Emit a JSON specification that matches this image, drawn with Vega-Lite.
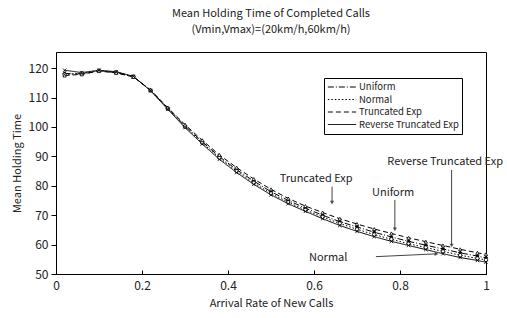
{
  "$schema": "https://vega.github.io/schema/vega-lite/v6.json",
  "width": 430,
  "height": 222,
  "autosize": {"type": "none"},
  "padding": {"left": 56, "top": 52, "right": 21, "bottom": 44},
  "background": "white",
  "config": {
    "font": "Noto Sans CJK JP",
    "view": {"stroke": "#000", "strokeWidth": 1},
    "axis": {"labelFont": "Noto Sans CJK JP", "titleFont": "Noto Sans CJK JP", "labelColor": "#222", "titleColor": "#222", "titleFontWeight": "normal", "domainColor": "#000", "tickColor": "#000", "grid": false, "labelOverlap": false},
    "legend": {"rowPadding": 0.5, "symbolSize": 800, "clipHeight": 12}
  },
  "title": {
    "text": ["Mean Holding Time of Completed Calls", "(Vmin,Vmax)=(20km/h,60km/h)"],
    "fontSize": 11,
    "fontWeight": "normal",
    "color": "#222",
    "lineHeight": 16,
    "anchor": "middle",
    "frame": "group",
    "offset": 17
  },
  "datasets": {
    "curves": [
      {"x": 0.02, "s": "Uniform", "y": 118.2}, {"x": 0.02, "s": "Normal", "y": 117.8}, {"x": 0.02, "s": "Truncated Exp", "y": 117.5}, {"x": 0.02, "s": "Reverse Truncated Exp", "y": 119.3},
      {"x": 0.06, "s": "Uniform", "y": 118.0}, {"x": 0.06, "s": "Normal", "y": 118.3}, {"x": 0.06, "s": "Truncated Exp", "y": 117.9}, {"x": 0.06, "s": "Reverse Truncated Exp", "y": 118.5},
      {"x": 0.10, "s": "Uniform", "y": 119.1}, {"x": 0.10, "s": "Normal", "y": 119.2}, {"x": 0.10, "s": "Truncated Exp", "y": 119.0}, {"x": 0.10, "s": "Reverse Truncated Exp", "y": 119.3},
      {"x": 0.14, "s": "Uniform", "y": 118.5}, {"x": 0.14, "s": "Normal", "y": 118.6}, {"x": 0.14, "s": "Truncated Exp", "y": 118.4}, {"x": 0.14, "s": "Reverse Truncated Exp", "y": 118.8},
      {"x": 0.18, "s": "Uniform", "y": 117.1}, {"x": 0.18, "s": "Normal", "y": 117.2}, {"x": 0.18, "s": "Truncated Exp", "y": 117.0}, {"x": 0.18, "s": "Reverse Truncated Exp", "y": 117.2},
      {"x": 0.22, "s": "Uniform", "y": 112.5}, {"x": 0.22, "s": "Normal", "y": 112.4}, {"x": 0.22, "s": "Truncated Exp", "y": 112.6}, {"x": 0.22, "s": "Reverse Truncated Exp", "y": 112.3},
      {"x": 0.26, "s": "Uniform", "y": 106.4}, {"x": 0.26, "s": "Normal", "y": 106.2}, {"x": 0.26, "s": "Truncated Exp", "y": 106.6}, {"x": 0.26, "s": "Reverse Truncated Exp", "y": 106.0},
      {"x": 0.30, "s": "Uniform", "y": 100.4}, {"x": 0.30, "s": "Normal", "y": 100.1}, {"x": 0.30, "s": "Truncated Exp", "y": 100.8}, {"x": 0.30, "s": "Reverse Truncated Exp", "y": 99.8},
      {"x": 0.34, "s": "Uniform", "y": 95.0}, {"x": 0.34, "s": "Normal", "y": 94.6}, {"x": 0.34, "s": "Truncated Exp", "y": 95.5}, {"x": 0.34, "s": "Reverse Truncated Exp", "y": 94.2},
      {"x": 0.38, "s": "Uniform", "y": 89.9}, {"x": 0.38, "s": "Normal", "y": 89.5}, {"x": 0.38, "s": "Truncated Exp", "y": 90.5}, {"x": 0.38, "s": "Reverse Truncated Exp", "y": 89.0},
      {"x": 0.42, "s": "Uniform", "y": 85.5}, {"x": 0.42, "s": "Normal", "y": 85.0}, {"x": 0.42, "s": "Truncated Exp", "y": 86.2}, {"x": 0.42, "s": "Reverse Truncated Exp", "y": 84.5},
      {"x": 0.46, "s": "Uniform", "y": 81.6}, {"x": 0.46, "s": "Normal", "y": 81.0}, {"x": 0.46, "s": "Truncated Exp", "y": 82.3}, {"x": 0.46, "s": "Reverse Truncated Exp", "y": 80.5},
      {"x": 0.50, "s": "Uniform", "y": 78.0}, {"x": 0.50, "s": "Normal", "y": 77.4}, {"x": 0.50, "s": "Truncated Exp", "y": 78.8}, {"x": 0.50, "s": "Reverse Truncated Exp", "y": 76.9},
      {"x": 0.54, "s": "Uniform", "y": 75.0}, {"x": 0.54, "s": "Normal", "y": 74.4}, {"x": 0.54, "s": "Truncated Exp", "y": 75.7}, {"x": 0.54, "s": "Reverse Truncated Exp", "y": 73.9},
      {"x": 0.58, "s": "Uniform", "y": 72.4}, {"x": 0.58, "s": "Normal", "y": 71.8}, {"x": 0.58, "s": "Truncated Exp", "y": 73.1}, {"x": 0.58, "s": "Reverse Truncated Exp", "y": 71.3},
      {"x": 0.62, "s": "Uniform", "y": 70.0}, {"x": 0.62, "s": "Normal", "y": 69.4}, {"x": 0.62, "s": "Truncated Exp", "y": 70.9}, {"x": 0.62, "s": "Reverse Truncated Exp", "y": 68.8},
      {"x": 0.66, "s": "Uniform", "y": 67.8}, {"x": 0.66, "s": "Normal", "y": 67.2}, {"x": 0.66, "s": "Truncated Exp", "y": 68.8}, {"x": 0.66, "s": "Reverse Truncated Exp", "y": 66.5},
      {"x": 0.70, "s": "Uniform", "y": 66.0}, {"x": 0.70, "s": "Normal", "y": 65.2}, {"x": 0.70, "s": "Truncated Exp", "y": 67.0}, {"x": 0.70, "s": "Reverse Truncated Exp", "y": 64.5},
      {"x": 0.74, "s": "Uniform", "y": 64.2}, {"x": 0.74, "s": "Normal", "y": 63.4}, {"x": 0.74, "s": "Truncated Exp", "y": 65.3}, {"x": 0.74, "s": "Reverse Truncated Exp", "y": 62.7},
      {"x": 0.78, "s": "Uniform", "y": 62.6}, {"x": 0.78, "s": "Normal", "y": 61.8}, {"x": 0.78, "s": "Truncated Exp", "y": 63.8}, {"x": 0.78, "s": "Reverse Truncated Exp", "y": 61.1},
      {"x": 0.82, "s": "Uniform", "y": 61.1}, {"x": 0.82, "s": "Normal", "y": 60.3}, {"x": 0.82, "s": "Truncated Exp", "y": 62.3}, {"x": 0.82, "s": "Reverse Truncated Exp", "y": 59.7},
      {"x": 0.86, "s": "Uniform", "y": 59.8}, {"x": 0.86, "s": "Normal", "y": 59.0}, {"x": 0.86, "s": "Truncated Exp", "y": 61.0}, {"x": 0.86, "s": "Reverse Truncated Exp", "y": 58.3},
      {"x": 0.90, "s": "Uniform", "y": 58.5}, {"x": 0.90, "s": "Normal", "y": 57.7}, {"x": 0.90, "s": "Truncated Exp", "y": 59.7}, {"x": 0.90, "s": "Reverse Truncated Exp", "y": 56.9},
      {"x": 0.94, "s": "Uniform", "y": 57.2}, {"x": 0.94, "s": "Normal", "y": 56.4}, {"x": 0.94, "s": "Truncated Exp", "y": 58.4}, {"x": 0.94, "s": "Reverse Truncated Exp", "y": 55.6},
      {"x": 0.98, "s": "Uniform", "y": 56.1}, {"x": 0.98, "s": "Normal", "y": 55.3}, {"x": 0.98, "s": "Truncated Exp", "y": 57.2}, {"x": 0.98, "s": "Reverse Truncated Exp", "y": 54.6},
      {"x": 1.00, "s": "Uniform", "y": 55.5}, {"x": 1.00, "s": "Normal", "y": 54.8}, {"x": 1.00, "s": "Truncated Exp", "y": 56.7}, {"x": 1.00, "s": "Reverse Truncated Exp", "y": 54.0}
    ],
    "labels": [
      {"label": "Truncated Exp", "x": 0.605, "y": 82.4},
      {"label": "Uniform", "x": 0.784, "y": 77.6},
      {"label": "Reverse Truncated Exp", "x": 0.905, "y": 88.2},
      {"label": "Normal", "x": 0.633, "y": 55.5}
    ],
    "arrows": [
      {"x": 0.642, "y": 79.7, "x2": 0.642, "y2": 74.3, "ang": 180},
      {"x": 0.788, "y": 75.2, "x2": 0.788, "y2": 65.2, "ang": 180},
      {"x": 0.92, "y": 85.4, "x2": 0.92, "y2": 59.7, "ang": 180},
      {"x": 0.744, "y": 55.9, "x2": 0.885, "y2": 56.85, "ang": 93}
    ]
  },
  "encoding": {
    "x": {"field": "x", "type": "quantitative", "scale": {"domain": [0, 1]},
      "axis": {"values": [0, 0.2, 0.4, 0.6, 0.8, 1], "format": "~g", "title": "Arrival Rate of New Calls", "labelFontSize": 12, "titleFontSize": 11, "tickSize": -4, "labelPadding": 10, "titlePadding": 6, "labelFlush": false, "labelOverlap": false}},
    "y": {"field": "y", "type": "quantitative", "scale": {"domain": [50, 125.5], "nice": false},
      "axis": {"values": [50, 60, 70, 80, 90, 100, 110, 120], "title": "Mean Holding Time", "labelFontSize": 12, "titleFontSize": 11, "tickSize": 5, "labelPadding": 3, "titlePadding": 6, "labelOverlap": false}}
  },
  "layer": [
    {
      "data": {"name": "curves"},
      "mark": {"type": "line", "color": "black", "strokeWidth": 1},
      "encoding": {
        "strokeDash": {"field": "s", "type": "nominal",
          "scale": {"domain": ["Uniform", "Normal", "Truncated Exp", "Reverse Truncated Exp"], "range": [[6, 2, 1, 2], [1.5, 2], [5, 3], [1, 0]]},
          "legend": {"title": null, "orient": "none", "legendX": 268, "legendY": 26, "symbolType": "stroke", "symbolStrokeColor": "black", "symbolStrokeWidth": 1, "labelFontSize": 9.5, "labelColor": "#222", "labelFont": "Noto Sans CJK JP", "strokeColor": "#000", "padding": 3, "fillColor": "white", "labelOffset": 2, "symbolOffset": 0}}
      }
    },
    {
      "data": {"name": "curves"},
      "mark": {"type": "point", "filled": true, "stroke": "black", "strokeWidth": 0.8, "size": 12, "opacity": 1},
      "encoding": {
        "shape": {"field": "s", "type": "nominal",
          "scale": {"domain": ["Reverse Truncated Exp", "Truncated Exp", "Normal", "Uniform"], "range": ["M-1,-1L1,1M-1,1L1,-1", "triangle-up", "circle", "diamond"]},
          "legend": null},
        "fill": {"field": "s", "type": "nominal",
          "scale": {"domain": ["Truncated Exp", "Reverse Truncated Exp", "Uniform", "Normal"], "range": ["white", "black", "black", "white"]},
          "legend": null}
      }
    },
    {
      "data": {"name": "arrows"},
      "mark": {"type": "rule", "color": "#444", "strokeWidth": 1},
      "encoding": {
        "x2": {"field": "x2"},
        "y2": {"field": "y2"}
      }
    },
    {
      "data": {"name": "arrows"},
      "mark": {"type": "point", "shape": "triangle-up", "filled": true, "color": "#222", "size": 18},
      "encoding": {
        "x": {"field": "x2", "type": "quantitative"},
        "y": {"field": "y2", "type": "quantitative"},
        "angle": {"field": "ang", "type": "quantitative", "scale": null}
      }
    },
    {
      "data": {"name": "labels"},
      "mark": {"type": "text", "fontSize": 11, "color": "#222", "font": "Noto Sans CJK JP"},
      "encoding": {
        "text": {"field": "label"}
      }
    }
  ]
}
